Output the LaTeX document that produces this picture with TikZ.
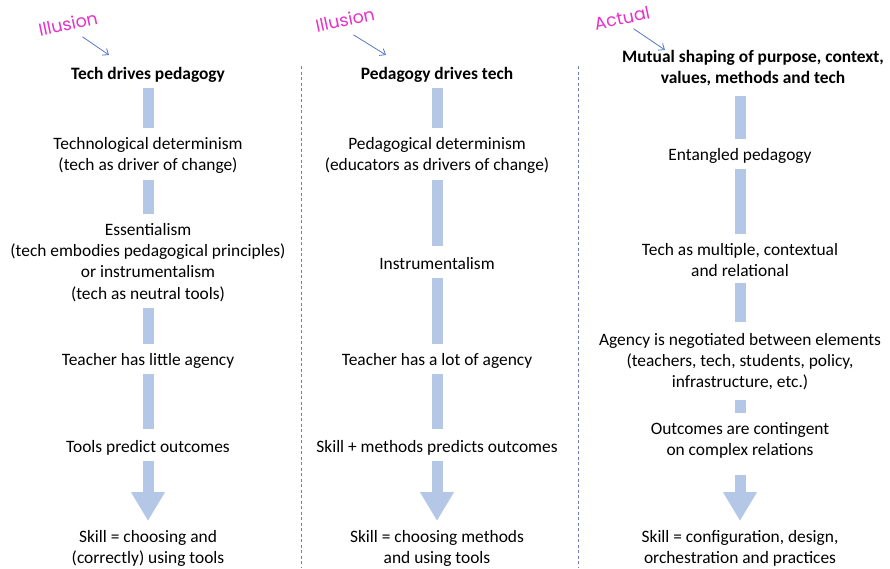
\documentclass[tikz,border=0pt]{standalone}
\usepackage{fontspec}
\setmainfont{Carlito}
\newfontfamily\handfont{Poppins}
\usetikzlibrary{arrows.meta,positioning}
\definecolor{barblue}{RGB}{180,199,231}
\definecolor{notepink}{RGB}{230,50,200}
\definecolor{pointblue}{RGB}{84,120,196}
\definecolor{sepblue}{RGB}{110,130,185}

\begin{document}
\begin{tikzpicture}[x=1pt, y=-1pt,
  stage/.style={anchor=north, align=center, inner sep=0pt, font=\fontsize{17.4pt}{21.3pt}\selectfont},
  head/.style={stage, font=\fontsize{17.4pt}{21.3pt}\selectfont\bfseries},
  bar/.style={barblue, line width=11pt, shorten <=6pt, shorten >=9pt},
  outcome/.style={bar, -{Triangle[length=29pt, width=32pt]}},
  note/.style={notepink, rotate=12, inner sep=0pt, font=\handfont\fontsize{17.5pt}{20pt}\selectfont},
  pointer/.style={pointblue, line width=0.8pt, -{Straight Barb[length=5pt, width=8pt]}},
  sep/.style={sepblue, line width=0.8pt, dash pattern=on 3pt off 2.5pt}]
\useasboundingbox (0,0) rectangle (890,568);

% column separators
\draw[sep] (301,66) -- (301,568);
\draw[sep] (578,66) -- (578,568);

% left column: tech drives pedagogy
\node[head] (tech) at (148,67) {Tech drives pedagogy};
\node[stage] (techdet) at (148,137) {Technological determinism\\(tech as driver of change)};
\node[stage] (essent) at (148,223) {Essentialism\\(tech embodies pedagogical principles)\\or instrumentalism\\(tech as neutral tools)};
\node[stage] (little) at (148,353) {Teacher has little agency};
\node[stage] (tools) at (148,440) {Tools predict outcomes};
\node[stage] (skilla) at (148,530) {Skill = choosing and\\(correctly) using tools};
\draw[bar, shorten <=5pt] (tech) -- (techdet);
\draw[bar] (techdet) -- (essent);
\draw[bar] (essent) -- (little);
\draw[bar, shorten >=11pt] (little) -- (tools);
\draw[outcome] (tools) -- (skilla);

% middle column: pedagogy drives tech
\node[head] (pedtech) at (437,67) {Pedagogy drives tech};
\node[stage] (peddet) at (437,137) {Pedagogical determinism\\(educators as drivers of change)};
\node[stage] (instr) at (437,257) {Instrumentalism};
\node[stage] (alot) at (437,353) {Teacher has a lot of agency};
\node[stage] (methods) at (437,440) {Skill + methods predicts outcomes};
\node[stage] (skillb) at (437,530) {Skill = choosing methods\\and using tools};
\draw[bar, shorten <=5pt] (pedtech) -- (peddet);
\draw[bar, shorten >=11pt] (peddet) -- (instr);
\draw[bar, shorten <=8pt] (instr) -- (alot);
\draw[bar, shorten >=11pt] (alot) -- (methods);
\draw[outcome] (methods) -- (skillb);

% right column: mutual shaping
\node[head] (mutual) at (753,50) {Mutual shaping of purpose, context,\\values, methods and tech};
\node[stage] (entangled) at (740,148) {Entangled pedagogy};
\node[stage] (multiple) at (740,243) {Tech as multiple, contextual\\and relational};
\node[stage] (agency) at (740,333) {Agency is negotiated between elements\\(teachers, tech, students, policy,\\infrastructure, etc.)};
\node[stage] (contingent) at (740,422) {Outcomes are contingent\\on complex relations};
\node[stage] (skillc) at (740,530) {Skill = configuration, design,\\orchestration and practices};
\draw[bar, shorten <=10pt] (mutual.south -| entangled) -- (entangled);
\draw[bar] (entangled) -- (multiple);
\draw[bar, shorten >=11pt] (multiple) -- (agency);
\draw[bar, shorten <=9pt] (agency) -- (contingent);
\draw[outcome, shorten <=16pt] (contingent) -- (skillc);

% handwritten notes
\node[note] (illa) at (68,24) {Illusion};
\node[note] (illb) at (345,20) {Illusion};
\node[note] (actual) at (622,18) {Actual};
\coordinate (aima) at (109,55);
\coordinate (aimb) at (386,55);
\coordinate (aimc) at (665,50);
\draw[pointer] ([xshift=13pt, yshift=-6pt]illa.south) -- (aima);
\draw[pointer] ([xshift=7pt, yshift=-8pt]illb.south) -- (aimb);
\draw[pointer] ([xshift=10pt, yshift=-4pt]actual.south) -- (aimc);
\end{tikzpicture}
\end{document}
